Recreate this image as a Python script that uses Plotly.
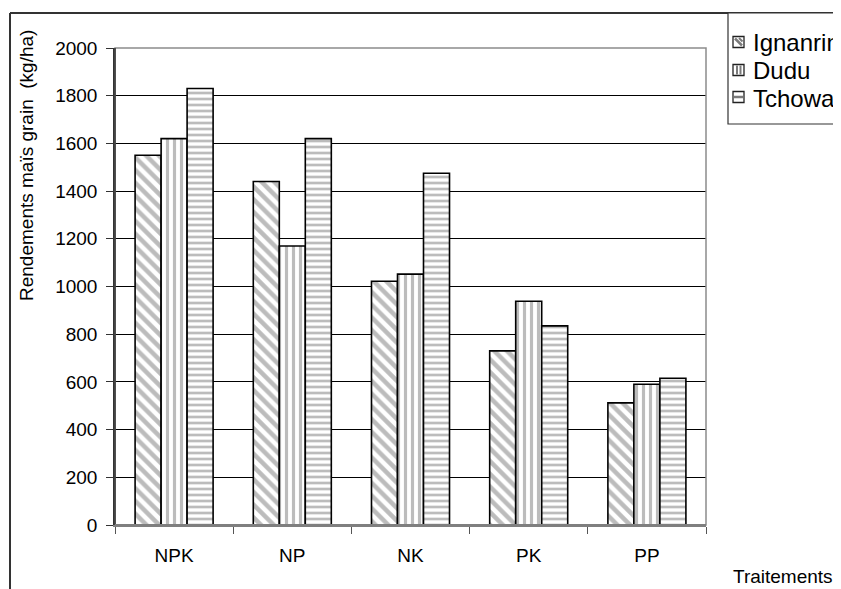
import plotly.graph_objects as go

categories = ["NPK", "NP", "NK", "PK", "PP"]
ignanrin = [1550, 1440, 1022, 730, 512]
dudu = [1620, 1170, 1052, 938, 590]
tchowa = [1830, 1620, 1475, 835, 615]
series_names = ["Ignanrin", "Dudu", "Tchowa"]
y_ticks = [0, 200, 400, 600, 800, 1000, 1200, 1400, 1600, 1800, 2000]

# page geometry (the html body has an 8px margin)
OFF = 8
W, H = 841 - OFF, 589 - OFF
P_LEFT, P_RIGHT, P_TOP, P_BOTTOM = 115, 706, 48, 525
ML, MR, MT, MB = P_LEFT - OFF, 841 - P_RIGHT, P_TOP - OFF, 589 - P_BOTTOM
PW, PH = P_RIGHT - P_LEFT, P_BOTTOM - P_TOP


def px2x(px):
    return (px - P_LEFT) / PW


def py2y(py):
    return 1 - (py - P_TOP) / PH


FONT = "Liberation Sans, Arial, sans-serif"
FS = 19
LEG_FS = 24
GRAY = "#7a7a7a"
patterns = [
    dict(shape="\\", fgcolor=GRAY, bgcolor="white", size=9, solidity=0.5),
    dict(shape="|", fgcolor=GRAY, bgcolor="white", size=7, solidity=0.45),
    dict(shape="-", fgcolor=GRAY, bgcolor="white", size=6, solidity=0.45),
]

fig = go.Figure()
for name, vals, pat in zip(series_names, [ignanrin, dudu, tchowa], patterns):
    fig.add_trace(go.Bar(
        x=categories, y=vals, name=name, showlegend=False,
        marker=dict(color="white", pattern=pat, line=dict(color="black", width=1.6)),
    ))


def line(x0, y0, x1, y1, color="#333333", width=2.0):
    return dict(type="line", xref="paper", yref="paper",
                x0=px2x(x0), x1=px2x(x1), y0=py2y(y0), y1=py2y(y1),
                line=dict(color=color, width=width), layer="above")


shapes = [
    dict(type="rect", xref="paper", yref="paper", x0=0, x1=1, y0=0, y1=1,
         line=dict(color="#8c8c8c", width=1.5), layer="above"),
    dict(type="line", xref="paper", yref="paper", x0=0, x1=0, y0=0, y1=1,
         line=dict(color="#333333", width=1.5), layer="above"),
    dict(type="line", xref="paper", yref="paper", x0=0, x1=1, y0=0, y1=0,
         line=dict(color="#7f7f7f", width=2), layer="above"),
    line(10, 13, 10, 620),
    line(10, 13, 900, 13),
    dict(type="rect", xref="paper", yref="paper", x0=px2x(728), x1=px2x(900),
         y0=py2y(124), y1=py2y(13), fillcolor="white",
         line=dict(color="#333333", width=1.2), layer="above"),
]

annotations = [
    dict(text="Rendements maïs grain  (kg/ha)", textangle=-90,
         xref="paper", yref="paper", x=px2x(26), y=py2y(166),
         xanchor="center", yanchor="middle", showarrow=False,
         font=dict(size=FS)),
    dict(text="Traitements", xref="paper", yref="paper",
         x=px2x(783), y=py2y(576), xanchor="center", yanchor="middle",
         showarrow=False, font=dict(size=FS)),
]

# hand-drawn legend (clipped by the chart edge like the reference)
leg_y = [42, 70, 97]
SX0, SX1 = 733, 744
for i, (name, cy) in enumerate(zip(series_names, leg_y)):
    y0, y1 = cy - 5.5, cy + 5.5
    shapes.append(dict(type="rect", xref="paper", yref="paper",
                       x0=px2x(SX0), x1=px2x(SX1), y0=py2y(y1), y1=py2y(y0),
                       fillcolor="white", line=dict(color="#222222", width=1.3),
                       layer="above"))
    if i == 0:
        shapes.append(line(SX0 + 2, y0 + 2, SX1 - 2, y1 - 2, GRAY, 2.5))
        shapes.append(line(SX0 + 6, y0 + 1.5, SX1 - 1.5, y1 - 6, GRAY, 2))
    elif i == 1:
        shapes.append(line(SX0 + 4, y0 + 1, SX0 + 4, y1 - 1, GRAY, 2))
        shapes.append(line(SX0 + 7.5, y0 + 1, SX0 + 7.5, y1 - 1, GRAY, 2))
    else:
        shapes.append(line(SX0 + 1, cy, SX1 - 1, cy, GRAY, 2.5))
    annotations.append(dict(text=name, xref="paper", yref="paper",
                            x=px2x(751), y=py2y(cy + 1), xanchor="left",
                            yanchor="middle", showarrow=False,
                            font=dict(size=LEG_FS)))

fig.update_layout(
    width=W, height=H,
    margin=dict(l=ML, r=MR, t=MT, b=MB, autoexpand=False),
    paper_bgcolor="white", plot_bgcolor="white",
    font=dict(family=FONT, size=FS, color="black"),
    barmode="group", bargap=0.34, bargroupgap=0,
    showlegend=False,
    xaxis=dict(
        type="category", showgrid=False, ticks="outside", ticklen=7,
        tickcolor="#555555", tickson="boundaries", ticklabelstandoff=12,
        showline=True, linecolor="#7f7f7f", linewidth=2,
        tickfont=dict(size=FS), fixedrange=True,
    ),
    yaxis=dict(
        range=[0, 2000], tickvals=y_ticks, ticks="outside", ticklen=7,
        tickcolor="#333333", showgrid=True, gridcolor="#000000", gridwidth=1,
        showline=True, linecolor="#333333", linewidth=1.5,
        ticklabelstandoff=5, tickfont=dict(size=FS), zeroline=False,
    ),
    shapes=shapes,
    annotations=annotations,
)

fig.write_html("out.html")
